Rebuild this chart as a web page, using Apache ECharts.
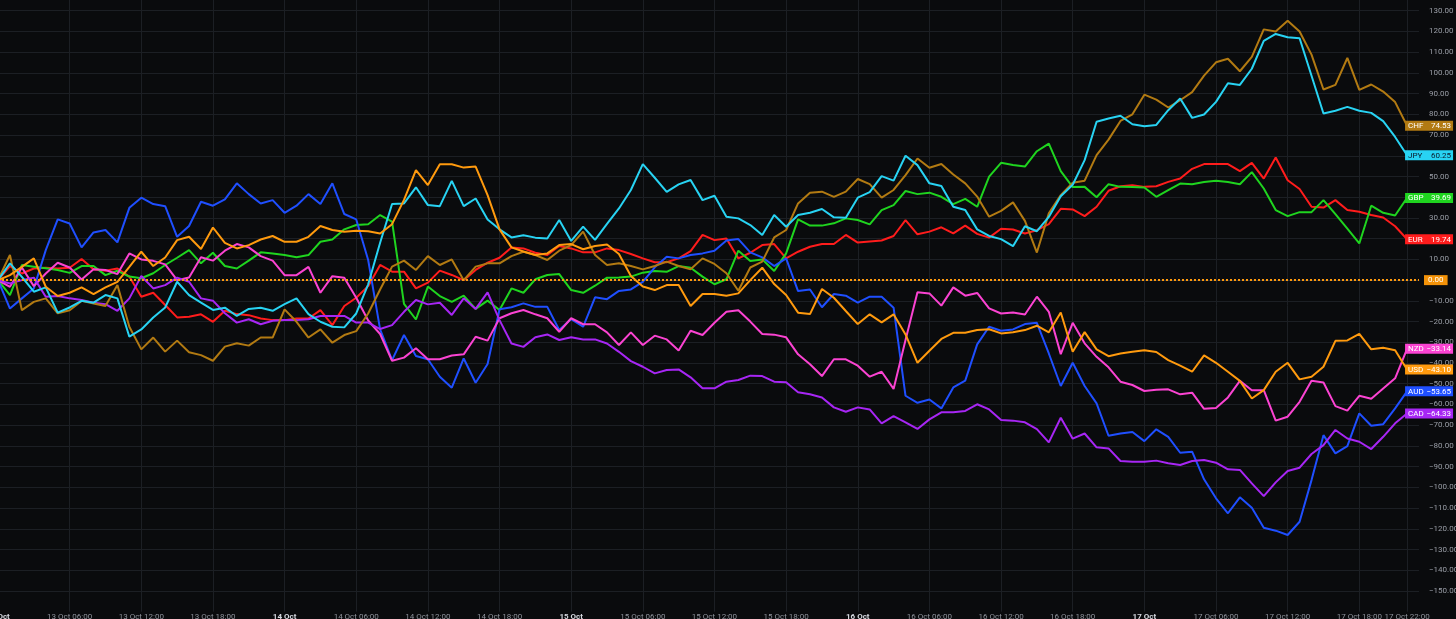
<!DOCTYPE html>
<html>
<head>
<meta charset="utf-8">
<title>Currency strength</title>
<script src="https://cdn.jsdelivr.net/npm/echarts@6/dist/echarts.min.js"></script>
<style>
  html, body { margin: 0; padding: 0; background: #0a0b0d; }
  #chart { width: 1456px; height: 619px; }
</style>
</head>
<body>
<div id="chart"></div>
<script>
// hourly timeline, 13 Oct 00:00 -> 17 Oct 23:00 (last bar is 17 Oct 22:00)
const hours = []
for (let d = 13; d <= 17; d++) {
  for (let h = 0; h < 24; h++) {
    hours.push(h === 0 ? `${d} Oct` : `${d} Oct ${String(h).padStart(2, '0')}:00`)
  }
}

const eur = [0, 6.8, 3.2, 5.6, 6, 5.6, 6, 10.2, 5.2, 4.5, 5.6, 1.7, -8, -6.1, -12, -18, -17.7, -16.5, -20.1, -14.8, -16.4, -16.9, -18.5, -19.3, -19.3, -18.5, -18.5, -14.5, -21.7, -12.5, -8.5, -2.9, 7.3, 4.1,
  4.1, -4, -1.2, 4.6, 2.5, 0, 4.9, 8.4, 10.8, 15.8, 15.3, 13.2, 12.1, 16.5, 15.3, 13.4, 13.4, 15.3, 14.5, 12.6, 10.5, 8.6, 8.6, 10.5, 14, 21.8, 19.3, 20.1, 10.5,
  13.2, 16.9, 17.4, 10.5, 13.7, 16.1, 17.4, 17.4, 21.8, 18.1, 18.6, 19.1, 21.3, 29, 22.1, 23.4, 25.5, 22.6, 26.3, 22.3, 20.5,
  24.8, 24.4, 22.5, 24.1, 27, 34.4, 34.1, 30.9, 35.4, 43.1, 45.3, 45.8, 45, 45.3, 47.4, 49, 53.7, 56, 56, 56, 52.6, 56.6, 49, 59.2, 48.2, 44, 35.4, 35, 38.6, 33.8, 33, 31.4, 30.2, 26, 19.74]

const gbp = [0, -7.2, 7.3, 6.5, 5.7, 4.9, 3.5, 6.8, 6.8, 2.4, 4.5, 1.7, 0.9, 3.3, 7.3, 10.8, 14.5, 8.1, 13.2, 6.8, 5.6, 9.4, 13.4, 12.9, 12.1, 11, 12.1, 18.5, 19.6, 24.5, 26.6, 27, 31.4, 28.2,
  -11.5, -19, -3.1, -7.7, -10.5, -7.5, -13.9, -9.9, -14.4, -4, -6.1, 0.4, 2.5, 2.9, -4.8, -6.1, -2.7, 1.2, 1.3, 1.7, 3.6, 4.4, 4, 6.8, 6, 1.7, -2, 0.4, 14.2,
  9.2, 10, 4.4, 12.9, 29.3, 26.3, 26.3, 27.4, 29.8, 29, 26.9, 33.8, 36.2, 43, 41.5, 42.2, 40.2, 36.7, 39.2, 35.4, 49.9,
  56.6, 55.6, 54.8, 62.2, 65.9, 52.6, 44.9, 45, 40, 46.3, 45, 44.9, 44.7, 40.2, 43.4, 46.6, 46.3, 47.3, 47.9, 47.3, 46.3, 52.1, 44.2, 33.8, 30.9, 32.8, 32.8, 38.6, 31.8, 24.8, 17.7, 35.9, 32.5, 31.2, 39.69]

const aud = [0, -13.7, -8.8, -4, 14.5, 29.3, 27.3, 15.8, 23, 24.2, 18.2, 34.9, 39.8, 36.7, 35.7, 20.9, 26.1, 37.8, 35.9, 39, 46.7, 41.5, 37, 38.6, 32.5, 35.9, 41.5, 36.7, 46.7, 31.9, 29.3, 9.7, -23.8, -38.6,
  -26.5, -36.6, -38.2, -46.6, -51.9, -37.8, -49.5, -40.5, -14.1, -13.1, -11.2, -12.9, -12.9, -24.1, -18.8, -22.5, -8.3, -9.2, -5.2, -4.5, -0.8, 6.2, 11.3, 10.5, 12.1, 12.9, 14.2, 19.1, 19.8,
  13.4, 11, 6.8, 10.5, -5.3, -4.5, -13.1, -6.7, -7.5, -10.9, -8, -8, -13.3, -55.8, -59.2, -57.6, -61.9, -51.8, -48.5, -31, -22.5,
  -24.4, -23.8, -21.2, -20.6, -35.4, -51.1, -39.9, -51.1, -59.5, -75.1, -74, -73.3, -77.7, -72, -75.6, -83.3, -82.8, -96.1, -105.3, -112.5, -104.8, -109.8, -119.5, -120.9, -123, -116.6, -96.5, -74.8, -83.6, -80.1, -64.3, -70.3, -69.5, -61.9, -53.65]

const nzd = [0, -3.2, 6.1, -2.9, 3.2, 8.4, 6.1, 0.3, 5.2, 4.9, 2.9, 12.9, 10, 9.3, 7.6, 0, 1.3, 11, 9.4, 14.2, 17.4, 15.8, 11.6, 9.4, 2.4, 2.4, 6.4, -6.1, 1.9, 1.1, -8.5, -19.5, -26, -38.9,
  -37.4, -32.9, -38.2, -38.2, -36.4, -35.8, -27.3, -29.2, -18.4, -16, -14.4, -16.5, -18.4, -24.9, -18.4, -21.3, -21.3, -25.2, -31.3, -25.2, -31.3, -26.8, -28.6, -34, -24.4, -26.5, -20.6, -15.3, -14.5,
  -20, -26, -26.3, -27.6, -35.8, -40.6, -46.3, -38.2, -38.2, -41.3, -46.6, -44.2, -52.5, -28.9, -5.9, -6.4, -12.3, -3.5, -7.5, -6.2, -13.6,
  -16.1, -15.6, -16.6, -8, -15.3, -35.7, -20.6, -30.5, -37, -42.1, -49, -50.6, -53.5, -52.9, -52.7, -55.1, -54.3, -62.1, -61.7, -56.6, -48.6, -53.1, -53.1, -67.8, -65.9, -58.7, -48.6, -49.4, -60.8, -63, -55.8, -57.2, -52.3, -47.4, -33.14]

const cad = [0, -1.6, 0, 1.2, -8, -7.7, -8.8, -9.6, -10.9, -11.6, -14.8, -8.8, 2, -4, -2.4, 1.2, -0.8, -8.8, -9.9, -16, -20.5, -18.9, -21.3, -19.6, -19.3, -19.3, -18.9, -17.3, -17.3, -17.3, -20.5, -20.5, -23.6, -21.7,
  -15.3, -9.6, -11.7, -10.9, -16.8, -8.8, -13.9, -5.9, -19.3, -30.6, -32.2, -27.6, -26.2, -28.9, -27.6, -28.6, -28.6, -30.6, -34.6, -39.1, -41.8, -45, -43.4, -43.1, -46.9, -52.2, -52.2, -49, -48.2,
  -46.1, -46.3, -49, -49.3, -54.1, -55.1, -56.6, -61.4, -63.5, -61.4, -62.4, -69.1, -65.6, -68.6, -71.8, -67.2, -63.8, -63.8, -63.1, -59.9, -62.4,
  -67.5, -67.8, -68.6, -71.9, -78.3, -66.4, -76.5, -74, -80.7, -81.2, -87.3, -87.6, -87.6, -87.1, -88.4, -89.2, -87.3, -86.8, -88.1, -91.3, -91.6, -98.1, -104.2, -97.6, -92.1, -90.5, -83.9, -79.6, -72.3, -76.4, -78, -81.5, -75.6, -69.1, -64.33]

const chf = [0, 12.1, -14.5, -10.5, -8.8, -16, -14.5, -10, -11.3, -12.5, -2.4, -22.5, -33.4, -27.7, -34.5, -29.2, -34.8, -36.2, -38.9, -32.1, -30.5, -31.6, -27.7, -27.7, -14.1, -20.1, -27.7, -23.8, -30.2, -26.5, -24.6, -16.1, -4.5, 6.5,
  9.4, 4.9, 11.6, 7.3, 10, 0, 6.5, 8.1, 8.1, 11.6, 13.7, 12.1, 9.7, 14.2, 16.9, 23.4, 12.1, 7.3, 8.1, 6.8, 5.2, 6.8, 8.9, 6.8, 5.2, 10.5, 7.8, 3.3, -5.1,
  6.1, 8.9, 20.6, 24.2, 37, 42.2, 42.7, 40.2, 42.7, 48.8, 46.3, 39.8, 43.5, 50.7, 58.7, 54.2, 56, 51, 46.7, 40.3, 30.6,
  33.4, 37.5, 28.6, 13.3, 32.2, 41, 47, 48, 60.3, 67.8, 76.8, 80, 89.5, 87.1, 83.3, 86.8, 90.7, 98.7, 105.1, 106.8, 100.8, 107.7, 121, 120, 125.2, 120, 108.8, 92, 94.2, 107.2, 91.8, 94.4, 91, 85.9, 74.53]

const jpy = [0, 8.1, 1.6, -5.6, -3.5, -15.7, -13.2, -10, -10.9, -7.2, -8.8, -27.3, -23.8, -18, -13.2, -0.8, -7.2, -10.9, -14.4, -13.3, -17.3, -13.9, -13.3, -14.8, -11.6, -8.8, -16.4, -20.1, -22.5, -22.8, -16.1, -2, 18, 36.7,
  37, 44.8, 36.2, 35.7, 47.9, 35.7, 39.4, 29.3, 24.5, 20.6, 21.7, 20.5, 20.1, 29, 18.9, 25.8, 19.4, 27.1, 34.6, 43.5, 56, 49.4, 42.6, 46.2, 48.3, 38.6, 40.7, 30.6, 29.8,
  26.6, 21.8, 31.4, 25.8, 31.4, 32.5, 34.3, 30.3, 30.1, 39.8, 42.5, 50.2, 48, 60, 55.5, 46.7, 45.4, 35.4, 33.8, 24.5, 21.3,
  19.8, 16.4, 26, 23.6, 30.5, 40.5, 46, 57.9, 76.4, 78, 79.3, 75.2, 74.3, 74.9, 82, 87.6, 78.3, 79.9, 86, 95, 94.2, 102, 115.4, 118.8, 117.2, 116.7, 98.6, 80.4, 81.7, 83.6, 81.7, 80.7, 76.7, 69.1, 60.25]

const usd = [0, 2.4, 6.4, 10.5, -3.2, -7.7, -6.1, -3.5, -6.7, -3.5, -0.8, 6.4, 13.7, 6.8, 10.9, 19.3, 20.9, 15, 25.4, 18, 15.3, 16.9, 19.6, 21.3, 18.5, 18.5, 20.9, 26.1, 24.2, 23.3, 23.8, 23.6, 22.5, 27,
  38.7, 53.1, 45.9, 55.9, 55.9, 54.3, 54.8, 41, 24.5, 15.8, 13.8, 12.1, 12.9, 16.9, 17.4, 14.9, 16.5, 17.2, 12.6, 2, -3.1, -4.8, -2.4, -2.4, -12.5, -6.7, -6.7, -7.5, -6.4,
  0, 6, -1.9, -7.2, -15.7, -16.4, -4.3, -8.5, -14.9, -21.2, -16.5, -20.4, -16.5, -26.2, -39.9, -34.1, -28.4, -25.4, -25.4, -24.1, -23.7,
  -25.7, -25.2, -24.1, -22, -25.2, -15.6, -34.6, -25.1, -33.4, -36.7, -35.4, -34.6, -33.8, -34.7, -38.6, -41.3, -44.2, -36.3, -39.9, -44.2, -48.6, -57.1, -53.1, -44.2, -39.9, -47.9, -46.6, -41.8, -29.3, -29.1, -25.9, -33.4, -32.6, -33.8, -43.1]

const currencies = [
  { name: 'EUR', color: '#ff1c1c', text: '#ffffff', data: eur },
  { name: 'GBP', color: '#1fd41f', text: '#ffffff', data: gbp },
  { name: 'AUD', color: '#1f4fff', text: '#ffffff', data: aud },
  { name: 'NZD', color: '#fb43d2', text: '#ffffff', data: nzd },
  { name: 'CAD', color: '#a726f4', text: '#ffffff', data: cad },
  { name: 'CHF', color: '#b27a12', text: '#ffffff', data: chf },
  { name: 'JPY', color: '#28d3f3', text: '#0c1a2a', data: jpy },
  { name: 'USD', color: '#ff9a0e', text: '#ffffff', data: usd }
]

const fontFamily = 'Roboto, "Noto Sans", sans-serif'

const fmt = (v) => (v < 0 ? '\u2212' : '') + Math.abs(v).toFixed(2)

const showTick = (index) => index % 6 === 0 || index === 118

const chart = echarts.init(document.getElementById('chart'))

chart.setOption({
  animation: false,
  backgroundColor: '#0a0b0d',
  grid: {
    left: -2,
    top: -10,
    width: 1421,
    height: 621.7,
    outerBoundsMode: 'none',
    containLabel: false
  },
  xAxis: {
    type: 'category',
    data: hours,
    boundaryGap: false,
    offset: -3,
    axisLine: { show: true, lineStyle: { color: '#2a2d33', width: 1 } },
    axisTick: { show: false },
    axisLabel: {
      interval: showTick,
      margin: 4,
      color: '#8f939c',
      fontSize: 8,
      fontFamily,
      formatter: (value) => value.indexOf(':') < 0 ? `{d|${value}}` : value,
      rich: {
        d: { color: '#d6d9e0', fontWeight: 'bold', fontSize: 8, fontFamily }
      }
    },
    splitLine: {
      show: true,
      interval: showTick,
      lineStyle: { color: '#1c1f24', width: 1 }
    }
  },
  yAxis: {
    type: 'value',
    position: 'right',
    min: -160,
    max: 140,
    interval: 10,
    axisLine: { show: false },
    axisTick: { show: false },
    axisLabel: {
      margin: 10,
      color: '#9a9ea7',
      fontSize: 8,
      fontFamily,
      showMinLabel: false,
      showMaxLabel: false,
      formatter: fmt
    },
    splitLine: {
      showMinLine: false,
      lineStyle: { color: '#1c1f24', width: 1 }
    }
  },
  series: currencies.map((c) => ({
    type: 'line',
    name: c.name,
    data: c.data,
    symbol: 'none',
    lineStyle: { width: 2, color: c.color },
    itemStyle: { color: c.color },
    endLabel: {
      show: true,
      distance: -2,
      backgroundColor: c.color,
      padding: [1, 2, 0, 3],
      formatter: (p) => `{n|${c.name}}{v|${fmt(p.value)}}`,
      rich: {
        n: { color: c.text, fontSize: 8, fontFamily, width: 18, lineHeight: 9 },
        v: { color: c.text, fontSize: 8, fontFamily, width: 25, align: 'right', lineHeight: 9 }
      }
    },
    markLine: c.name !== 'USD' ? undefined : {
      silent: true,
      symbol: 'none',
      data: [{ yAxis: 0 }],
      lineStyle: { color: '#ff9a0e', type: 'dotted', width: 2 },
      label: {
        show: true,
        position: 'end',
        distance: 5,
        formatter: '0.00',
        color: '#ffffff',
        backgroundColor: '#f39208',
        padding: [1, 4, 0, 4],
        fontSize: 8,
        lineHeight: 9,
        fontFamily
      }
    }
  }))
})
</script>
</body>
</html>
